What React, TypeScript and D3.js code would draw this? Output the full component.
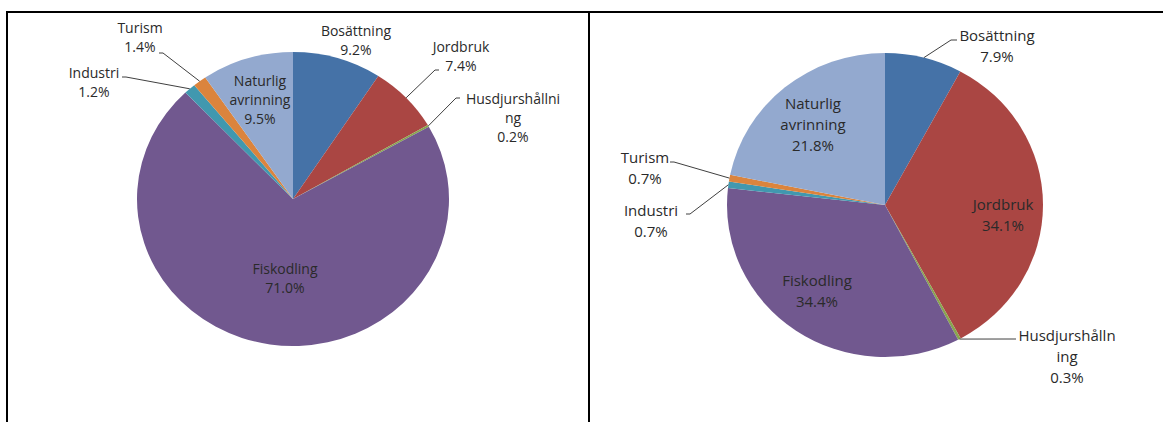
import * as d3 from 'd3'

// slice order follows the source chart (clockwise from 12 o'clock)
const categories = [
  'Bosättning',
  'Jordbruk',
  'Husdjurshållning',
  'Fiskodling',
  'Industri',
  'Turism',
  'Naturlig avrinning',
]

const valuesLeft = [9.2, 7.4, 0.2, 71.0, 1.2, 1.4, 9.5]
const valuesRight = [7.9, 34.1, 0.3, 34.4, 0.7, 0.7, 21.8]

// label text lines as shown (the long name wraps mid-word in the original)
const labelNamesLeft = [
  ['Bosättning'],
  ['Jordbruk'],
  ['Husdjurshållni', 'ng'],
  ['Fiskodling'],
  ['Industri'],
  ['Turism'],
  ['Naturlig', 'avrinning'],
]
const labelNamesRight = [
  ['Bosättning'],
  ['Jordbruk'],
  ['Husdjurshålln', 'ing'],
  ['Fiskodling'],
  ['Industri'],
  ['Turism'],
  ['Naturlig', 'avrinning'],
]

const colors = ['#4572A7', '#AA4643', '#89A54E', '#71588F', '#4198AF', '#DB843D', '#93A9CF']

interface LabelPos {
  x: number
  y: number
  elbow?: [number, number]
  end?: [number, number]
}

// label placement (layout only)
const layoutLeft: LabelPos[] = [
  { x: 356, y: 30 },
  { x: 461, y: 46, elbow: [435, 70], end: [439, 70] },
  { x: 513, y: 98, elbow: [456, 98], end: [460, 98] },
  { x: 285, y: 268 },
  { x: 94, y: 72, elbow: [126, 77], end: [122, 77] },
  { x: 140, y: 27, elbow: [163, 53], end: [159, 53] },
  { x: 260, y: 80 },
]
const layoutRight: LabelPos[] = [
  { x: 997, y: 35, elbow: [951, 40], end: [957, 40] },
  { x: 1003, y: 204 },
  { x: 1067, y: 335, elbow: [1010, 339], end: [1016, 339] },
  { x: 817, y: 280 },
  { x: 651, y: 210, elbow: [690, 214], end: [686, 214] },
  { x: 645, y: 157, elbow: [674, 162], end: [670, 162] },
  { x: 813, y: 103 },
]

interface PieProps {
  values: number[]
  names: string[][]
  layout: LabelPos[]
  cx: number
  cy: number
  rx: number
  ry: number
  fontSize: number
  lineH: number
}

const PiePanel = ({ values, names, layout, cx, cy, rx, ry, fontSize, lineH }: PieProps) => {
  const pie = d3
    .pie<number>()
    .sort(null)
    .value((d) => d)
  const arcs = pie(values)
  const arc = d3.arc<d3.PieArcDatum<number>>().innerRadius(0).outerRadius(ry)

  return (
    <g>
      <g transform={`translate(${cx},${cy}) scale(${rx / ry},1)`}>
        {arcs.map((a, i) => (
          <path key={categories[i]} d={arc(a) || ''} fill={colors[i]} />
        ))}
      </g>
      {arcs.map((a, i) => {
        const l = layout[i]
        const mid = (a.startAngle + a.endAngle) / 2
        const sx = cx + rx * Math.sin(mid)
        const sy = cy - ry * Math.cos(mid)
        const lines = [...names[i], `${a.data.toFixed(1)}%`]
        return (
          <g key={categories[i]}>
            {l.elbow && l.end && (
              <polyline
                points={`${sx},${sy} ${l.elbow[0]},${l.elbow[1]} ${l.end[0]},${l.end[1]}`}
                fill="none"
                stroke="#404040"
                strokeWidth={1}
              />
            )}
            <text
              x={l.x}
              y={l.y}
              textAnchor="middle"
              dominantBaseline="central"
              fontFamily="'Open Sans', sans-serif"
              fontSize={fontSize}
              fill="#2a2a2a"
            >
              {lines.map((t, j) => (
                <tspan key={j} x={l.x} y={l.y + j * lineH}>
                  {t}
                </tspan>
              ))}
            </text>
          </g>
        )
      })}
    </g>
  )
}

export default function App() {
  return (
    <div style={{ position: 'absolute', left: 0, top: 0 }}>
      <svg width={1163} height={422} style={{ display: 'block', background: '#fff' }}>
        <PiePanel
          values={valuesLeft}
          names={labelNamesLeft}
          layout={layoutLeft}
          cx={293}
          cy={199}
          rx={156}
          ry={147}
          fontSize={14}
          lineH={19}
        />
        <PiePanel
          values={valuesRight}
          names={labelNamesRight}
          layout={layoutRight}
          cx={885}
          cy={205}
          rx={158}
          ry={152}
          fontSize={15}
          lineH={21}
        />
        <line x1={6} x2={1163} y1={12} y2={12} stroke="#000" strokeWidth={2} />
        <line x1={7} x2={7} y1={11} y2={422} stroke="#000" strokeWidth={2} />
        <line x1={589} x2={589} y1={11} y2={422} stroke="#000" strokeWidth={2} />
      </svg>
    </div>
  )
}
